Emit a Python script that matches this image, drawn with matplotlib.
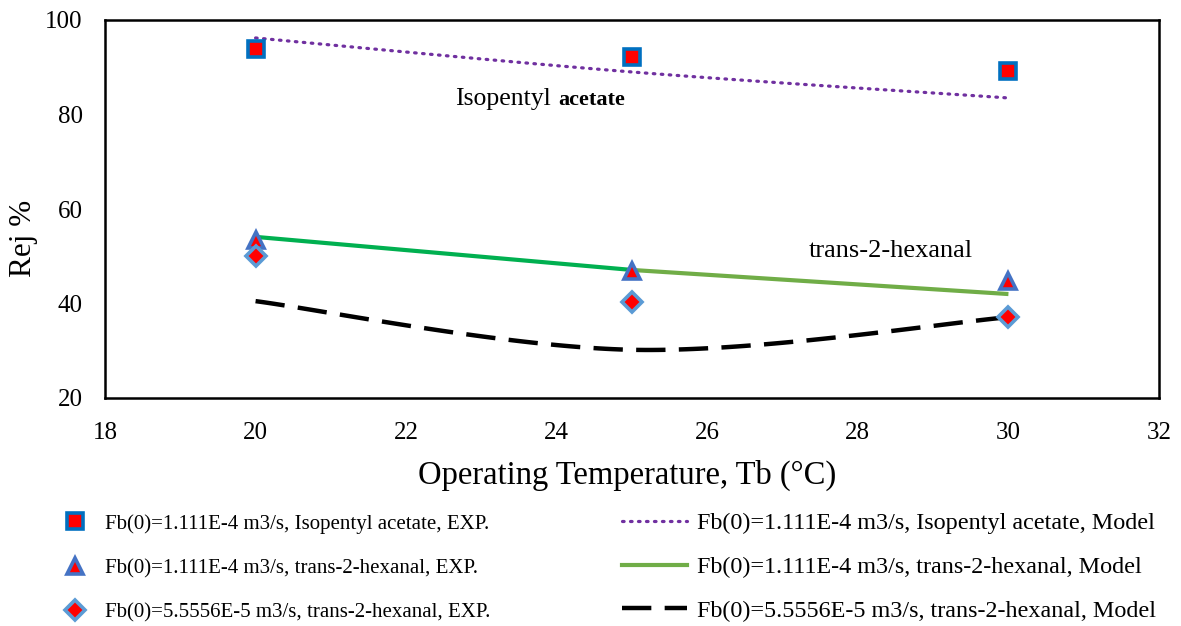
import numpy as np
import matplotlib
matplotlib.use("Agg")
import matplotlib.pyplot as plt
from matplotlib.lines import Line2D

plt.rcParams['font.family'] = ['Liberation Serif', 'DejaVu Serif']

temps = [20, 25, 30]
iso_exp = [93.9, 92.2, 89.2]
iso_model = [96.2, 89.0, 83.5]
hex1_exp = [53.4, 46.9, 44.8]
hex1_model = [54.1, 47.1, 42.0]
hex2_exp = [50.0, 40.3, 37.1]
hex2_model = [40.5, 30.2, 37.1]

labels = [
    "Fb(0)=1.111E-4 m3/s, Isopentyl acetate, EXP.",
    "Fb(0)=1.111E-4 m3/s, trans-2-hexanal, EXP.",
    "Fb(0)=5.5556E-5 m3/s, trans-2-hexanal, EXP.",
    "Fb(0)=1.111E-4 m3/s, Isopentyl acetate, Model",
    "Fb(0)=1.111E-4 m3/s, trans-2-hexanal, Model",
    "Fb(0)=5.5556E-5 m3/s, trans-2-hexanal, Model",
]


def smooth(x, y, n=60):
    """Catmull-Rom style smoothing through the given points (rendering only)."""
    x = np.asarray(x, float); y = np.asarray(y, float)
    P = np.column_stack([x, y])
    P = np.vstack([P[0], P, P[-1]])
    out = []
    for i in range(1, len(P) - 2):
        p0, p1, p2, p3 = P[i - 1], P[i], P[i + 1], P[i + 2]
        t = np.linspace(0, 1, n)[:, None]
        c1 = p1 + (p2 - p0) / 6.0
        c2 = p2 - (p3 - p1) / 6.0
        seg = ((1 - t) ** 3) * p1 + 3 * ((1 - t) ** 2) * t * c1 + 3 * (1 - t) * t ** 2 * c2 + t ** 3 * p2
        out.append(seg if i == 1 else seg[1:])
    s = np.vstack(out)
    return s[:, 0], s[:, 1]


fig = plt.figure(figsize=(11.81, 6.26), dpi=100)
ax = fig.add_axes([105 / 1181, 1 - 398 / 626, 1054 / 1181, 378 / 626])

DOT = (0, (0.5, 2.0))
DASH = (0, (6.6, 3.0))

# model lines
xs, ys = smooth(temps, iso_model)
ax.plot(xs, ys, color='#7030A0', lw=2.3, linestyle=DOT, dash_capstyle='round', zorder=2)
ax.plot(temps[:2], hex1_model[:2], color='#00B050', lw=3, zorder=2, solid_capstyle='butt')
ax.plot(temps[1:], hex1_model[1:], color='#70AD47', lw=3, zorder=2, solid_capstyle='butt')
xs, ys = smooth(temps, hex2_model)
ax.plot(xs, ys, color='black', lw=3.2, linestyle=DASH, zorder=2)

# experimental points
mk_sq = dict(linestyle='none', marker='s', ms=11, mfc='red', mec='#0070C0', mew=2.6)
mk_tr = dict(linestyle='none', marker='^', ms=12, mfc='red', mec='#4472C4', mew=2.6)
mk_di = dict(linestyle='none', marker='D', ms=10, mfc='red', mec='#5B9BD5', mew=2.6)
ax.plot(temps, iso_exp, zorder=3, **mk_sq)
ax.plot(temps, hex1_exp, zorder=3, **mk_tr)
ax.plot(temps, hex2_exp, zorder=3, **mk_di)

ax.set_xlim(18, 32)
ax.set_ylim(20, 100)
ax.set_xticks(np.arange(18, 33, 2))
ax.set_yticks(np.arange(20, 101, 20))
ax.tick_params(length=0, labelsize=18, colors='black')
ax.tick_params(axis='x', pad=17)
ax.tick_params(axis='y', pad=16)
for s in ax.spines.values():
    s.set_linewidth(1.8)
ax.set_xlabel("Operating Temperature, Tb (°C)", fontsize=23.5)
ax.xaxis.set_label_coords(0.495, -0.163)
ax.set_ylabel("Rej %", fontsize=22.5)
ax.yaxis.set_label_coords(-0.064, 0.423)

ax.text(22.65, 82.0, "Isopentyl", fontsize=18.5, ha='left', va='baseline')
ax.text(24.02, 82.0, "acetate", fontsize=16, fontweight='bold', ha='left', va='baseline')
ax.text(27.35, 49.8, "trans-2-hexanal", fontsize=19, ha='left', va='baseline')

h_exp = [Line2D([], [], **mk_sq), Line2D([], [], **mk_tr), Line2D([], [], **mk_di)]
h_mod = [
    Line2D([], [], color='#7030A0', lw=2.3, linestyle=DOT, dash_capstyle='round'),
    Line2D([], [], color='#70AD47', lw=3),
    Line2D([], [], color='black', lw=3.2, linestyle=DASH),
]
leg1 = fig.legend(h_exp, labels[:3], loc='upper left', bbox_to_anchor=(62 / 1181, 1 - 514 / 626), frameon=False,
                  fontsize=15, handlelength=1.25, handletextpad=0.8, labelspacing=1.19,
                  borderaxespad=0, borderpad=0)
leg2 = fig.legend(h_mod, labels[3:], loc='upper left', bbox_to_anchor=(622 / 1181, 1 - 512.5 / 626), frameon=False,
                  fontsize=17.4, handlelength=2.7, handletextpad=0.4, labelspacing=0.9,
                  borderaxespad=0, borderpad=0)

fig.savefig("out.png", dpi=100)
